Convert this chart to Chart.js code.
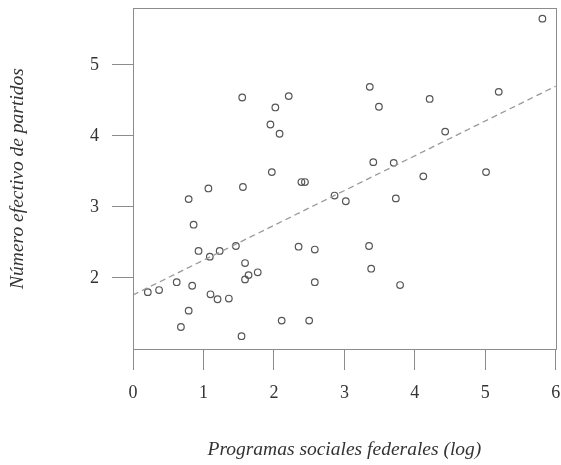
<!DOCTYPE html>
<html><head><meta charset="utf-8">
<script src="https://cdn.jsdelivr.net/npm/chart.js@4/dist/chart.umd.min.js"></script>
<style>html,body{margin:0;padding:0;background:#fff}#w{width:561px;height:465px}</style>
</head><body><div id="w"><canvas id="c"></canvas></div>
<script>
const xValues = [1.55,2.21,2.02,1.95,2.08,1.97,5.81,3.36,3.49,4.21,5.19,4.43,3.41,3.70,4.12,5.01,
  2.39,2.44,0.79,1.07,1.56,2.86,3.02,0.86,0.93,1.09,1.23,1.46,2.35,2.58,1.59,1.77,1.64,1.59,2.58,0.62,
  0.21,0.37,0.84,1.10,1.20,1.36,0.79,0.68,2.11,2.50,1.54,3.73,3.35,3.38,3.79];
const yValues = [4.54,4.56,4.40,4.16,4.03,3.49,5.65,4.69,4.41,4.52,4.62,4.06,3.63,3.62,3.43,3.49,
  3.35,3.35,3.11,3.26,3.28,3.16,3.08,2.75,2.38,2.30,2.38,2.45,2.44,2.40,2.21,2.08,2.04,1.98,1.94,1.94,
  1.80,1.83,1.89,1.77,1.70,1.71,1.54,1.31,1.40,1.40,1.18,3.12,2.45,2.13,1.90];
const fitX = [0, 6];
const fitY = [1.76, 4.70];
const xTicks = [0,1,2,3,4,5,6];
const yTicks = [2,3,4,5];

const pts = xValues.map((x,i)=>({x, y:yValues[i]}));
const fit = fitX.map((x,i)=>({x, y:fitY[i]}));
const gray = '#8c8c8c';
const serif = "'Liberation Serif', 'DejaVu Serif', serif";

const boxPlugin = {
  id:'box',
  afterDraw(chart){
    const a = chart.chartArea, ctx = chart.ctx;
    ctx.save(); ctx.strokeStyle = gray; ctx.lineWidth = 1;
    ctx.strokeRect(Math.round(a.left)+0.5, Math.round(a.top)+0.5, Math.round(a.right-a.left), Math.round(a.bottom-a.top));
    ctx.restore();
  }
};

new Chart(document.getElementById('c'), {
  type:'scatter',
  data:{datasets:[
    {data:pts, showLine:false, pointStyle:'circle', pointRadius:3.3, pointBorderWidth:1.2,
     pointBorderColor:'#555', pointBackgroundColor:'rgba(255,255,255,0)', clip:false, order:2},
    {data:fit, showLine:true, pointRadius:0, borderColor:'#999', borderWidth:1.3,
     borderDash:[6,4], fill:false, order:1}
  ]},
  options:{
    responsive:true, maintainAspectRatio:false, animation:false,
    events:[],
    layout:{padding:{top:8, right:4, left:0, bottom:0}},
    plugins:{legend:{display:false}, tooltip:{enabled:false}},
    scales:{
      x:{type:'linear', min:0, max:6,
        afterBuildTicks(s){ s.ticks = xTicks.map(v=>({value:v})); },
        afterFit(s){ s.height = 116; s.paddingLeft = 0; s.paddingRight = 0; },
        grid:{drawOnChartArea:false, drawTicks:true, tickLength:21, color:gray, lineWidth:1},
        border:{display:true, color:gray},
        ticks:{color:'#333', padding:12, font:{family:serif, size:18}, maxRotation:0},
        title:{display:true, text:'Programas sociales federales (log)', color:'#333',
          font:{family:serif, size:19.5, style:'italic'}, padding:{top:0,bottom:3}}
      },
      y:{type:'linear', min:1.0, max:5.8,
        afterBuildTicks(s){ s.ticks = yTicks.map(v=>({value:v})); },
        afterFit(s){ s.width = 133; s.paddingTop = 0; s.paddingBottom = 0; },
        grid:{drawOnChartArea:false, drawTicks:true, tickLength:21, color:gray, lineWidth:1},
        border:{display:true, color:gray},
        ticks:{color:'#333', padding:13, font:{family:serif, size:18}},
        title:{display:true, text:'Número efectivo de partidos', color:'#333',
          font:{family:serif, size:19.5, style:'italic'}, padding:{top:6,bottom:0}}
      }
    }
  },
  plugins:[boxPlugin]
});
</script></body></html>
